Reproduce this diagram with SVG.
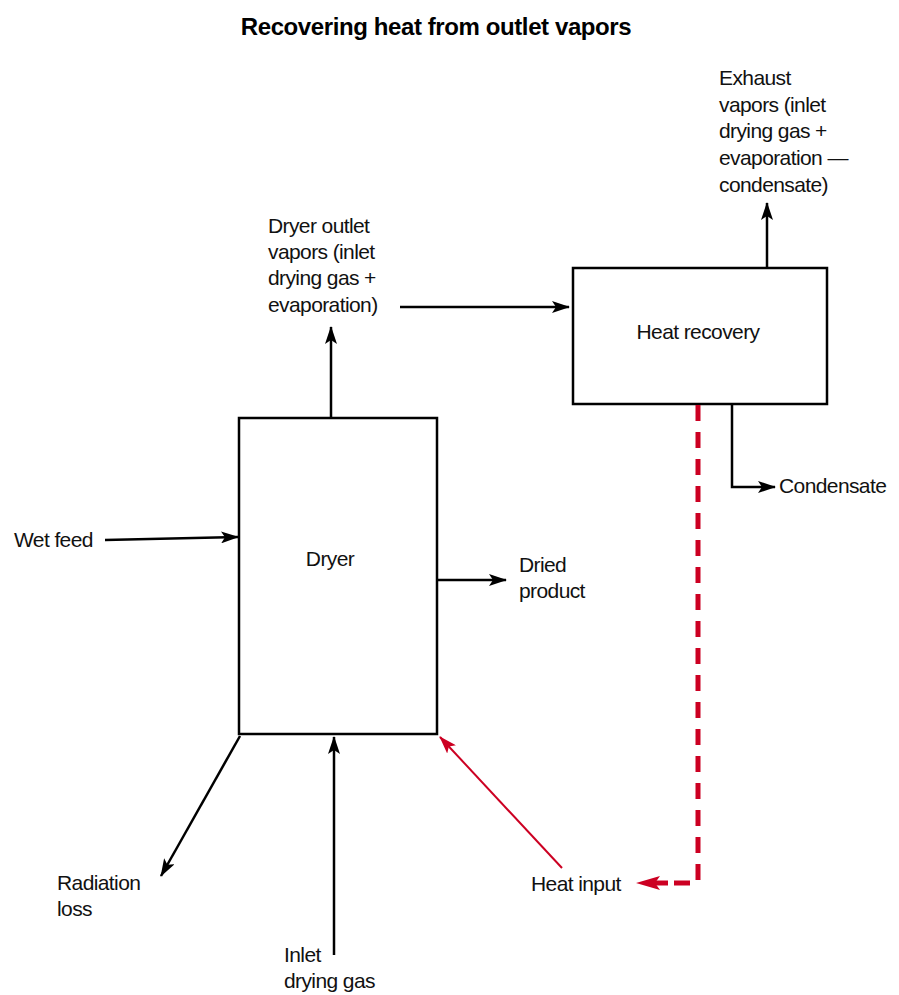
<svg xmlns="http://www.w3.org/2000/svg" width="899" height="995" viewBox="0 0 899 995">
<style>
text{font-family:"Liberation Sans Narrow","Liberation Sans",Arial,sans-serif;font-size:21px;letter-spacing:-0.6px;fill:#111}
.title{font-size:24px;font-weight:bold;fill:#000;letter-spacing:-0.4px}
.box{fill:#fff;stroke:#000;stroke-width:2.5}
.ln{fill:none;stroke:#000;stroke-width:2.5}
.red{fill:none;stroke:#cc0022;stroke-width:2}
.dash{fill:none;stroke:#cc0022;stroke-width:5;stroke-dasharray:16 11}
</style>
<defs>
<marker id="ah" viewBox="0 0 18 12" refX="17" refY="6" markerWidth="18" markerHeight="12" markerUnits="userSpaceOnUse" orient="auto"><path d="M0,0 L18,6 L0,12 L4,6 Z" fill="#000"/></marker>
<marker id="ahr" viewBox="0 0 18 12" refX="17" refY="6" markerWidth="18" markerHeight="12" markerUnits="userSpaceOnUse" orient="auto"><path d="M0,0 L18,6 L0,12 L4,6 Z" fill="#cc0022"/></marker>
</defs>
<text class="title" x="436" y="35" text-anchor="middle">Recovering heat from outlet vapors</text>
<g id="dryer"><rect class="box" x="239" y="418" width="198" height="316"/><text x="330" y="566" text-anchor="middle">Dryer</text></g>
<g id="heat-recovery"><rect class="box" x="573" y="268" width="254" height="136"/><text x="698" y="339" text-anchor="middle">Heat recovery</text></g>
<g id="dryer-outlet-label"><text x="268" y="233">Dryer outlet</text><text x="268" y="259">vapors (inlet</text><text x="268" y="285">drying gas +</text><text x="268" y="312">evaporation)</text></g>
<g id="exhaust-label"><text x="719" y="85">Exhaust</text><text x="719" y="112">vapors (inlet</text><text x="719" y="138">drying gas +</text><text x="719" y="165">evaporation —</text><text x="719" y="192">condensate)</text></g>
<g id="condensate-label"><text x="779" y="493">Condensate</text></g>
<g id="wet-feed-label"><text x="14" y="547">Wet feed</text></g>
<g id="dried-product-label"><text x="519" y="572">Dried</text><text x="519" y="598">product</text></g>
<g id="radiation-label"><text x="57" y="890">Radiation</text><text x="57" y="916">loss</text></g>
<g id="inlet-gas-label"><text x="284" y="962">Inlet</text><text x="284" y="988">drying gas</text></g>
<g id="heat-input-label"><text x="531" y="891">Heat input</text></g>
<g id="connectors">
<line class="ln" x1="331" y1="418" x2="331" y2="327" marker-end="url(#ah)"/>
<line class="ln" x1="400" y1="307" x2="569" y2="307" marker-end="url(#ah)"/>
<line class="ln" x1="767" y1="268" x2="767" y2="203" marker-end="url(#ah)"/>
<polyline class="ln" points="732,404 732,487 775,487" marker-end="url(#ah)"/>
<line class="ln" x1="105" y1="540" x2="238" y2="537" marker-end="url(#ah)"/>
<line class="ln" x1="437" y1="580" x2="506" y2="580" marker-end="url(#ah)"/>
<line class="ln" x1="240" y1="736" x2="161" y2="876" marker-end="url(#ah)"/>
<line class="ln" x1="334" y1="955" x2="334" y2="737" marker-end="url(#ah)"/>
<line class="red" x1="562" y1="868" x2="440" y2="737" marker-end="url(#ahr)"/>
<polyline class="dash" points="698,405 698,883 668,883"/>
<line stroke="#cc0022" stroke-width="5" x1="668" y1="883" x2="655" y2="883"/>
<path d="M636,883 L660,876 L655,883 L660,890 Z" fill="#cc0022"/>
</g>
</svg>
